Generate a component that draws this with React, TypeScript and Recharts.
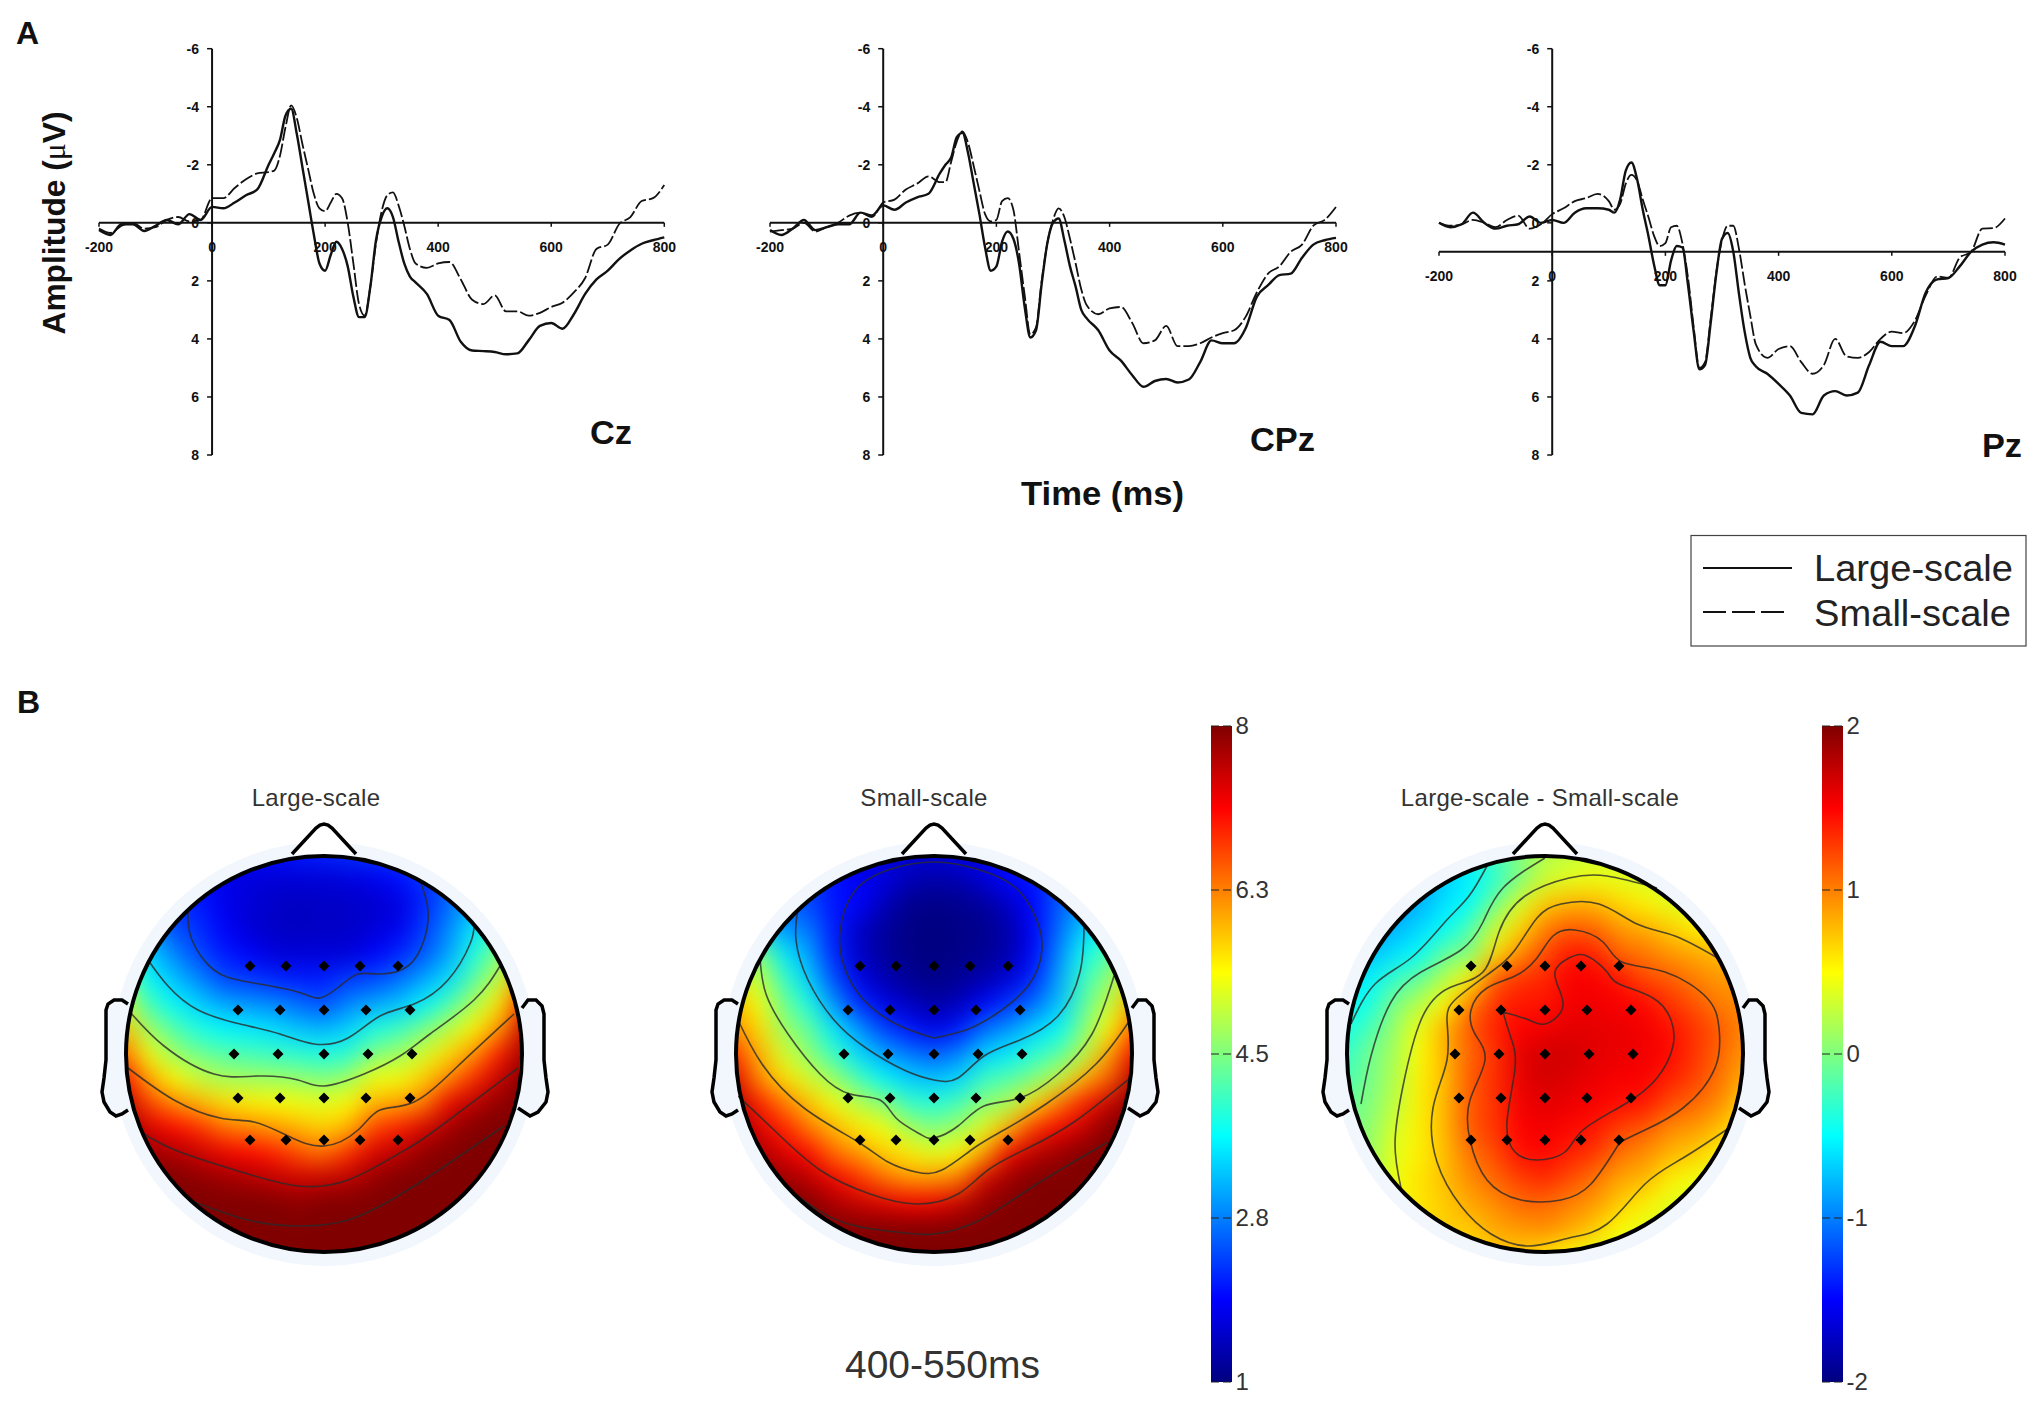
import { LineChart, Line, XAxis, YAxis, ReferenceLine, ReferenceDot, ScatterChart, Scatter, BarChart, Bar } from 'recharts';

const times = [-200,-180,-160,-140,-120,-100,-80,-60,-40,-20,0,20,40,60,80,100,110,120,130,140,150,160,170,180,190,200,210,220,230,240,250,260,270,280,290,300,310,320,330,340,350,360,380,400,420,440,460,480,500,520,540,560,580,600,620,640,660,680,700,720,740,760,780,800];

const czLarge = [0.25,0.42,0.05,0.05,0.28,0.1,-0.1,0.05,-0.3,-0.1,-0.55,-0.5,-0.7,-0.95,-1.15,-2,-2.4,-2.85,-3.7,-3.93,-3.05,-1.9,-0.75,0.4,1.4,1.65,1.1,0.65,0.9,1.5,2.55,3.25,3.25,2.2,0.6,-0.2,-0.5,-0.2,0.65,1.4,1.85,2.05,2.45,3.2,3.35,4.1,4.4,4.42,4.45,4.53,4.5,4.05,3.55,3.45,3.65,3.15,2.45,1.95,1.65,1.25,0.95,0.72,0.6,0.5];
const czSmall = [0.2,0.35,0.1,0,0.2,0.15,-0.1,-0.2,-0.05,-0.1,-0.85,-0.85,-1.2,-1.5,-1.7,-1.75,-1.8,-2.3,-3.3,-4.05,-3.6,-2.7,-1.85,-1,-0.5,-0.4,-0.7,-1,-0.85,0,1.4,2.8,3.2,2.2,0.7,-0.4,-0.95,-1.05,-0.6,0.1,0.9,1.4,1.55,1.4,1.35,1.95,2.65,2.8,2.5,3.05,3.05,3.2,3.1,2.9,2.75,2.4,1.9,0.9,0.75,0.05,-0.2,-0.75,-0.85,-1.3];
const cpzLarge = [0.25,0.42,0.2,-0.1,0.25,0.15,0.05,0.05,-0.35,-0.25,-0.6,-0.45,-0.7,-0.88,-1,-1.7,-2,-2.25,-2.95,-3.1,-2.4,-1.35,-0.3,0.85,1.65,1.5,0.65,0.3,0.55,1.4,2.9,3.95,3.7,2.1,0.7,0,-0.15,0.6,1.5,2.2,3,3.3,3.7,4.4,4.75,5.25,5.65,5.45,5.38,5.5,5.4,4.8,4.05,4.15,4.15,3.65,2.55,2.15,1.8,1.75,1.2,0.75,0.6,0.52];
const cpzSmall = [0.3,0.25,0.2,0,0.3,0.15,0,-0.25,-0.35,-0.2,-0.7,-0.8,-1.15,-1.35,-1.6,-1.4,-1.4,-2.1,-2.8,-3.15,-2.75,-1.95,-1.1,-0.3,-0.05,-0.1,-0.75,-0.85,-0.45,1,2.5,3.85,3.6,2,0.7,-0.1,-0.5,-0.2,0.55,1.4,2.3,2.85,3.15,2.95,2.9,3.45,4.15,4.05,3.55,4.25,4.25,4.15,3.95,3.8,3.7,3.25,2.4,1.75,1.5,1,0.75,0.1,-0.1,-0.55];
const pzLarge = [0,0.15,0.05,-0.35,0,0.2,0.1,0.05,-0.22,0,-0.1,0,-0.35,-0.5,-0.5,-0.45,-0.35,-0.8,-1.8,-2.08,-1.5,-0.45,0.45,1.45,2.15,2.15,1.3,0.8,0.85,2.15,3.75,5.05,4.9,3.45,1.75,0.55,0.35,1,2.45,3.75,4.65,4.95,5.2,5.55,5.95,6.55,6.6,5.95,5.8,5.95,5.85,4.9,4.1,4.25,4.25,3.6,2.4,1.95,1.9,1.5,1,0.75,0.67,0.75];
const pzSmall = [0,0.1,0.05,-0.1,0,0.15,-0.1,-0.25,0.2,0.05,-0.3,-0.5,-0.75,-0.85,-1,-0.75,-0.45,-0.65,-1.35,-1.65,-1.45,-0.8,-0.2,0.45,0.8,0.7,0.15,0.1,0.7,1.9,3.6,5,4.8,3.3,1.7,0.6,0.1,0.1,0.9,2.1,3.2,4.2,4.65,4.35,4.25,4.8,5.2,4.9,4,4.6,4.65,4.45,4,3.75,3.8,3.4,2.5,1.85,1.9,1.2,1,0.2,0.18,-0.15];

const xTicks = [-200, 0, 200, 400, 600, 800];
const yTicks = [-6, -4, -2, 0, 2, 4, 6, 8];
const seriesNames = ['Large-scale', 'Small-scale'];

// scalp grid, percent of head radius; columns run left to right, each one top to bottom
const gridX = [-100,-87.5,-75,-62.5,-50,-37.5,-25,-12.5,0,12.5,25,37.5,50,62.5,75,87.5,100];
const gridY = [100,87.5,75,62.5,50,37.5,25,12.5,0,-12.5,-25,-37.5,-50,-62.5,-75,-87.5,-100];

const largeField = [
  [2.3,2.4,2.6,3,3.4,3.9,4.6,5.1,5.8,6.4,7.1,7.6,7.9,8,8,8,8],
  [2,2.2,2.4,2.9,3.3,3.6,4.1,4.7,5.3,6,6.7,7.4,7.8,8,8,8,8],
  [2,2.1,2.2,2.4,2.8,3.2,3.6,4.2,4.7,5.4,6.2,7.1,7.7,8,8,8,8],
  [1.85,1.95,2.05,2.2,2.35,2.8,3.3,3.8,4.4,5,5.9,6.85,7.5,7.9,8,8,8],
  [1.75,1.75,1.75,1.85,2.05,2.35,3,3.6,4.2,4.8,5.6,6.4,7.25,7.8,8,8,8],
  [1.75,1.65,1.6,1.6,1.85,2.25,2.9,3.5,4.1,4.75,5.5,6.25,7.1,7.7,8,8,8],
  [1.85,1.6,1.5,1.5,1.6,2.1,2.8,3.4,4,4.7,5.4,6.1,6.95,7.55,8,8,8],
  [1.95,1.6,1.45,1.45,1.6,2.05,2.6,3.2,3.9,4.65,5.3,5.9,6.6,7.45,7.9,8,8],
  [2.05,1.6,1.5,1.5,1.6,2.05,2.4,3.1,3.8,4.5,5.2,5.7,6.4,7.5,8,8,8],
  [2.1,1.65,1.5,1.5,1.6,2.25,2.8,3.3,3.9,4.7,5.4,5.9,6.85,7.6,8,8,8],
  [2.2,1.75,1.55,1.6,1.85,2.35,3,3.8,4.5,5.3,5.9,6.7,7.4,7.85,8,8,8],
  [2.25,1.95,1.65,1.75,2.1,2.6,3.2,4,4.7,5.3,6,6.95,7.6,8,8,8,8],
  [2.3,2.2,2.1,2.25,2.45,3,3.55,4.4,5.1,5.7,6.3,7.4,7.9,8,8,8,8],
  [2.5,2.5,2.6,2.8,3,3.4,4.1,4.9,5.6,6.2,7.25,7.75,8,8,8,8,8],
  [2.8,2.9,3.1,3.45,3.8,4.2,4.8,5.4,6.1,6.85,7.6,8,8,8,8,8,8],
  [3,3.2,3.5,4,4.5,4.95,5.5,6.1,6.95,7.5,7.9,8,8,8,8,8,8],
  [3.2,3.6,4,4.4,4.9,5.4,6.1,6.95,7.5,7.8,8,8,8,8,8,8,8],
];

const smallField = [
  [2.6,2.7,2.9,3.2,3.6,4.2,5.1,5.9,6.2,6.8,7.35,7.7,7.9,8,8,8,8],
  [2.5,2.6,2.8,3.3,4.6,5,5.3,5.6,5.9,6.2,6.95,7.35,7.7,8,8,8,8],
  [2.4,2.4,2.5,2.9,3.5,4,4.4,4.7,5.1,5.6,6.3,6.95,7.35,7.8,8,8,8],
  [2.3,2.3,2.4,2.7,3,3.3,3.8,4.3,4.6,5.1,5.8,6.3,7.1,7.6,8,8,8],
  [2,2,2,2.05,2.1,2.4,2.9,3.5,4,4.7,5.3,5.9,6.4,7.2,7.7,8,8],
  [1.7,1.8,1.9,1.5,1.5,1.7,2.15,2.9,3.4,4.1,4.9,5.5,6.1,6.8,7.5,8,8],
  [1.6,1.7,1.4,1.2,1.2,1.35,1.7,2.3,3,3.6,4.6,5.3,5.7,6.4,7.35,8,8],
  [1.6,1.4,1.1,1.05,1.05,1.15,1.45,2,2.7,3.3,4,4.8,5.5,6.1,7.2,8,8],
  [1.6,1.3,1.05,1,1,1.05,1.25,1.7,2.5,3.2,3.9,4.5,5.2,6.1,7.25,8,8],
  [1.6,1.35,1.1,1.05,1.05,1.15,1.4,2,2.75,3.35,4.1,4.75,5.4,6.3,7.5,8,8],
  [1.7,1.6,1.2,1.1,1.15,1.3,1.85,2.6,3.3,4,4.6,5.2,6,7.4,7.85,8,8],
  [1.8,1.9,1.5,1.3,1.3,1.6,2.2,2.9,3.5,4.2,4.8,5.9,7.2,7.8,8,8,8],
  [2,2,1.9,1.85,1.9,2.1,2.6,3.3,3.9,4.5,5.6,6.8,7.6,8,8,8,8],
  [2.4,2.4,2.5,2.6,2.8,3,3.2,3.6,4.2,5,6.3,7.2,7.8,8,8,8,8],
  [2.6,2.7,2.9,3.3,3.7,4,4.2,4.5,4.9,5.9,6.95,7.5,8,8,8,8,8],
  [2.9,3.1,3.3,3.7,4.2,4.6,5,5.4,6,6.5,7.5,8,8,8,8,8,8],
  [3.2,3.4,3.8,4.3,4.8,5.2,5.6,6,6.5,7.2,7.7,8,8,8,8,8,8],
];

const diffField = [
  [-1,-1,-1,-0.95,-0.85,-0.7,-0.6,-0.5,-0.42,-0.32,-0.22,-0.1,-0.05,0,0,0,0],
  [-1,-1,-0.95,-0.9,-0.75,-0.55,-0.42,-0.22,-0.05,-0.05,0,0.05,0.1,0.15,0.2,0.2,0.2],
  [-1,-1,-0.9,-0.8,-0.6,-0.3,0,0.1,0.15,0.2,0.25,0.35,0.4,0.45,0.45,0.45,0.45],
  [-0.95,-0.9,-0.8,-0.65,-0.5,-0.1,0.2,0.45,0.5,0.55,0.55,0.55,0.55,0.6,0.6,0.6,0.6],
  [-0.8,-0.7,-0.6,-0.5,-0.1,0.2,0.5,0.8,0.8,0.75,0.78,0.78,0.75,0.75,0.7,0.7,0.65],
  [-0.65,-0.55,-0.5,-0.2,0,0.5,1,1.15,1.1,1.15,1.15,1.15,1.05,0.95,0.85,0.7,0.6],
  [-0.45,-0.35,-0.05,0.3,0.6,1.15,1.3,1.38,1.3,1.32,1.3,1.3,1.2,1.1,0.95,0.85,0.6],
  [-0.2,0,0.35,0.65,0.95,1.3,1.42,1.5,1.6,1.58,1.55,1.5,1.45,1.25,1.1,0.9,0.7],
  [0,0.3,0.7,1,1.2,1.35,1.42,1.55,1.68,1.68,1.6,1.55,1.48,1.35,1.1,0.95,0.7],
  [0.2,0.4,0.8,1.15,1.42,1.52,1.55,1.6,1.68,1.62,1.58,1.48,1.38,1.2,1,0.85,0.6],
  [0.25,0.45,0.8,1.1,1.38,1.52,1.55,1.6,1.6,1.58,1.52,1.42,1.3,1.05,0.9,0.7,0.5],
  [0.3,0.4,0.65,0.9,1.1,1.42,1.52,1.58,1.58,1.52,1.45,1.25,1.05,0.85,0.7,0.5,0.4],
  [0.3,0.35,0.55,0.82,1.05,1.2,1.48,1.55,1.55,1.52,1.42,1.15,0.95,0.8,0.55,0.4,0.35],
  [0.3,0.3,0.4,0.7,0.9,1.15,1.3,1.45,1.48,1.38,1.2,0.95,0.8,0.55,0.4,0.35,0.3],
  [0.3,0.3,0.35,0.55,0.85,1,1.18,1.3,1.3,1.25,1.1,0.9,0.7,0.45,0.35,0.3,0.3],
  [0.3,0.3,0.35,0.5,0.75,0.9,1,1.15,1.1,1.05,0.95,0.75,0.55,0.4,0.35,0.3,0.3],
  [0.3,0.3,0.35,0.45,0.65,0.8,0.9,0.95,0.95,0.9,0.8,0.65,0.5,0.4,0.3,0.3,0.3],
];

const largeContours = [
  [[-68,72],[-66,57],[-55,42],[-38,36],[-13,31],[-2,28],[8,34],[17,40],[28,40],[42,44],[50,57],[52,72],[48,87]],
  [[-88,47],[-78,34],[-63,22],[-42,15],[-22,10],[-5,5],[12,8],[28,19],[45,25],[62,37],[73,55],[75,64]],
  [[-97,21],[-80,4],[-55,-10],[-33,-11],[-13,-13],[0,-16],[20,-10],[38,-1],[53,10],[75,27],[88,44]],
  [[-98,-7],[-75,-23],[-52,-32],[-35,-34],[-18,-41],[0,-46],[17,-38],[28,-28],[45,-24],[67,-6],[95,20]],
  [[-90,-40],[-72,-49],[-38,-60],[-13,-66],[12,-63],[37,-50],[53,-40],[97,-7]],
  [[-65,-74],[-38,-83],[-13,-86],[12,-83],[37,-71],[62,-55],[90,-36]],
];

const smallContours = [
  [[0,8],[16,12],[31,20],[47,34],[54,52],[51,68],[41,83],[23,92],[0,96],[-23,92],[-40,81],[-47,61],[-45,44],[-36,28],[-19,15],[0,8]],
  [[-68,73],[-69,57],[-63,37],[-50,17],[-34,3],[-15,-8],[0,-13],[12,-12],[25,-1],[43,7],[62,19],[73,41],[75,64]],
  [[-87,48],[-84,30],[-73,10],[-57,-10],[-42,-20],[-27,-23],[-19,-32],[-7,-40],[0,-42],[12,-36],[25,-26],[43,-22],[62,-10],[79,10],[90,39]],
  [[-98,17],[-86,-5],[-65,-27],[-38,-44],[-23,-54],[-9,-59],[4,-58],[20,-47],[35,-38],[56,-25],[81,-5],[98,17]],
  [[-98,-21],[-80,-38],[-57,-58],[-32,-70],[-9,-75],[12,-70],[27,-58],[47,-47],[70,-34],[98,-12]],
  [[-71,-69],[-46,-84],[-19,-89],[0,-90],[23,-83],[50,-66],[87,-44]],
];

const diffContours = [
  [[-97,15],[-85,35],[-67,48],[-50,66],[-38,79],[-29,94]],
  [[-92,-25],[-87,-1],[-77,26],[-62,41],[-42,52],[-31,66],[-21,83],[0,98]],
  [[-72,-67],[-75,-45],[-71,-16],[-62,17],[-48,33],[-31,41],[-23,61],[-10,79],[12,88],[31,89],[56,83]],
  [[92,-37],[69,-52],[50,-65],[31,-85],[12,-92],[-8,-96],[-27,-90],[-42,-76],[-54,-54],[-56,-27],[-49,-3],[-49,17],[-44,28],[-27,41],[-15,52],[-4,68],[8,75],[27,75],[46,65],[65,59],[88,47]],
  [[37.5,-44],[23,-65],[8,-73],[-12,-73],[-29,-63],[-37.5,-43],[-37.5,-23],[-30,-3],[-35,10],[-37,22],[-29,33],[-15,39],[-4,48],[4,59],[15,62],[29,56],[38.5,46],[60,41],[81,28],[87,13],[85,-7],[69,-27],[50,-38],[37.5,-44]],
  [[-21,21],[-8,17],[0,15],[8,21],[8,30],[5,41],[12,48],[21,49],[31,41],[37,35],[54,28],[63,17],[64,4],[56,-12],[40,-25],[19,-38],[10,-49],[-4,-53],[-15,-49],[-19,-34],[-15,-7],[-17,8],[-21,21]],
];

const electrodeX = [-37,-19,0,18,37,-43,-22,0,21,43,-45,-23,0,22,44,-43,-22,0,21,43,-37,-19,0,18,37];
const electrodeY = [44,44,44,44,44,22,22,22,22,22,0,0,0,0,0,-22,-22,-22,-22,-22,-43,-43,-43,-43,-43];

const nose = [[-16,100],[-4,113],[-2,114.5],[0,115],[2,114.5],[4,113],[16,100]];
const leftEar = [[-98,25],[-101,27],[-105,27],[-108,25],[-109,22],[-109,10],[-109,-3],[-110,-12],[-111,-19],[-110,-24],[-107,-29],[-104,-31],[-101,-30],[-98,-28]];
const rightEar = [[99,23],[102,27],[106,27],[109,24],[110,20],[110,8],[110,-3],[111,-12],[112,-19],[111,-24],[107,-29],[103,-31],[100,-29],[97,-27]];

const scaleTicks = [1, 2.75, 4.5, 6.25, 8];
const scaleLabels = ['1', '2.8', '4.5', '6.3', '8'];
const diffTicks = [-2, -1, 0, 1, 2];
const diffLabels = ['-2', '-1', '0', '1', '2'];

const SANS = '"Liberation Sans", Arial, sans-serif';
const INK = '#111';

function jet(t: number) {
  const c = (v: number) => Math.round(255 * Math.max(0, Math.min(1, v)));
  const r = Math.min(4 * t - 1.5, -4 * t + 4.5);
  const g = Math.min(4 * t - 0.5, -4 * t + 3.5);
  const b = Math.min(4 * t + 0.5, -4 * t + 2.5);
  return `rgb(${c(r)},${c(g)},${c(b)})`;
}

const toPoints = (list: number[][]) => list.map(([x, y]) => ({ x, y }));

function ErpPanel({ left, right, cross, large, small, height = 480 }: any) {
  const chartLeft = left - 60;
  const plotW = right - left;
  const width = plotW + 100;
  const top = 48.7;
  const plotH = 406.3;
  const axisX = 60 + plotW * 0.2;
  const crossY = top + ((cross + 6) / 14) * plotH;
  const data = times.map((t, i) => ({ t, large: large[i], small: small[i] }));

  const xTick = ({ x, payload }: any) => (
    <g>
      <line x1={x} x2={x} y1={crossY} y2={crossY + 4} stroke={INK} strokeWidth={1.5} />
      <text x={x} y={crossY + 29} textAnchor="middle" fontFamily={SANS} fontWeight="bold" fontSize={14} fill={INK}>{payload.value}</text>
    </g>
  );
  const yTick = ({ y, payload }: any) => (
    <g>
      <line x1={axisX - 5} x2={axisX} y1={y} y2={y} stroke={INK} strokeWidth={1.5} />
      <text x={axisX - 13} y={y + 5} textAnchor="end" fontFamily={SANS} fontWeight="bold" fontSize={14} fill={INK}>{payload.value}</text>
    </g>
  );

  return (
    <div style={{ position: 'absolute', left: chartLeft, top: 0 }}>
      <LineChart width={width} height={height} data={data} margin={{ left: 59, right: 40, top, bottom: height - top - plotH - 1 }}>
        <XAxis type="number" dataKey="t" domain={[-200, 800]} ticks={xTicks} interval={0} axisLine={false} tickLine={false} tick={xTick} height={1} />
        <YAxis type="number" domain={[-6, 8]} reversed ticks={yTicks} interval={0} axisLine={false} tickLine={false} tick={yTick} width={1} />
        <ReferenceLine x={0} stroke={INK} strokeWidth={2} />
        <ReferenceLine y={cross} stroke={INK} strokeWidth={2} />
        <Line dataKey="small" name={seriesNames[1]} type="monotone" stroke={INK} strokeWidth={1.8} strokeDasharray="14 3" dot={false} isAnimationActive={false} />
        <Line dataKey="large" name={seriesNames[0]} type="monotone" stroke={INK} strokeWidth={2.4} dot={false} isAnimationActive={false} />
      </LineChart>
    </div>
  );
}

const FieldCell = ({ cx, cy, payload }: any) => {
  const edge = Math.abs(payload.x) === 100 || Math.abs(payload.y) === 100;
  const s = edge ? 75 : 26;
  return <rect x={cx - s / 2} y={cy - s / 2} width={s} height={s} fill={payload.color} />;
};
const Electrode = ({ cx, cy }: any) => (
  <path d={`M${cx} ${cy - 5.5}L${cx + 5.5} ${cy}L${cx} ${cy + 5.5}L${cx - 5.5} ${cy}Z`} fill="#000" />
);
const NoMark = () => null;

function Head({ id, cx, title, titleX, field, contours, min, max }: any) {
  const cells = gridX
    .flatMap((x, i) => gridY.map((y, j) => ({ x, y, color: jet((field[i][j] - min) / (max - min)) })))
    .sort((a, b) => Number(Math.abs(b.x) === 100 || Math.abs(b.y) === 100) - Number(Math.abs(a.x) === 100 || Math.abs(a.y) === 100));
  const electrodes = electrodeX.map((x, i) => ({ x, y: electrodeY[i] }));

  return (
    <div style={{ position: 'absolute', left: cx - 250, top: 724 }}>
      <ScatterChart width={500} height={580} margin={{ left: 0, right: 0, top: 0, bottom: 0 }}>
        <defs>
          <filter id={`blur-${id}`} filterUnits="userSpaceOnUse" x={0} y={0} width={500} height={580} colorInterpolationFilters="sRGB">
            <feGaussianBlur stdDeviation={12} />
          </filter>
          <clipPath id={`clip-${id}`}>
            <circle cx={250} cy={330} r={198} />
          </clipPath>
        </defs>
        <style>{`.field-${id}{filter:url(#blur-${id});clip-path:url(#clip-${id})}`}</style>
        <XAxis type="number" dataKey="x" domain={[-125, 125]} hide />
        <YAxis type="number" dataKey="y" domain={[-125, 165]} hide />
        <ReferenceDot x={0} y={0} r={205} fill="none" stroke="#f2f6fd" strokeWidth={14} />
        <Scatter className={`field-${id}`} data={cells} shape={FieldCell} isAnimationActive={false} />
        {contours.map((c: number[][], i: number) => (
          <Scatter key={i} data={toPoints(c)} line={{ stroke: '#2b2b2b', strokeWidth: 1.6, strokeOpacity: 0.8 }} lineJointType="natural" shape={NoMark} isAnimationActive={false} />
        ))}
        <Scatter data={toPoints(nose)} line={{ stroke: '#000', strokeWidth: 3.5, fill: '#fff' }} lineJointType="linear" shape={NoMark} isAnimationActive={false} />
        <Scatter data={toPoints(leftEar)} line={{ stroke: '#000', strokeWidth: 3.5, fill: '#f2f6fd' }} lineJointType="linear" shape={NoMark} isAnimationActive={false} />
        <Scatter data={toPoints(rightEar)} line={{ stroke: '#000', strokeWidth: 3.5, fill: '#f2f6fd' }} lineJointType="linear" shape={NoMark} isAnimationActive={false} />
        <ReferenceDot x={0} y={0} r={198} fill="none" stroke="#000" strokeWidth={4} />
        <Scatter data={electrodes} shape={Electrode} isAnimationActive={false} />
        <ReferenceDot x={titleX} y={128.5} r={0} fill="none" stroke="none"
          label={{ value: title, position: 'center', fontFamily: SANS, fontSize: 24, letterSpacing: 0.3, fill: '#333' }} />
      </ScatterChart>
    </div>
  );
}

function ColorBar({ id, left, ticks, labels, min, max }: any) {
  const barW = 20.5;
  const tick = ({ y, payload }: any) => (
    <g>
      <line x1={21} x2={21 + barW} y1={y} y2={y} stroke="#222" strokeWidth={1.2} strokeDasharray="8 4" />
      <text x={21 + barW + 4} y={y + 8} fontFamily={SANS} fontSize={24} fill="#333">{labels[ticks.indexOf(payload.value)]}</text>
    </g>
  );
  return (
    <div style={{ position: 'absolute', left: left - 21, top: 700 }}>
      <BarChart width={110} height={710} data={[{ name: 'scale', range: [min, max] }]} barCategoryGap={0} margin={{ left: 21, right: 0, top: 26, bottom: 28 }}>
        <defs>
          <linearGradient id={`jet-${id}`} x1="0" y1="1" x2="0" y2="0">
            {[0, 0.125, 0.375, 0.625, 0.875, 1].map((o) => <stop key={o} offset={o} stopColor={jet(o)} />)}
          </linearGradient>
        </defs>
        <XAxis dataKey="name" hide />
        <Bar dataKey="range" fill={`url(#jet-${id})`} isAnimationActive={false} />
        <YAxis orientation="right" type="number" domain={[min, max]} ticks={ticks} interval={0} width={110 - 21 - barW} axisLine={false} tickLine={false} tick={tick} />
      </BarChart>
    </div>
  );
}

export default function App() {
  const bold = { fontFamily: SANS, fontWeight: 'bold', fill: INK } as const;
  return (
    <div style={{ position: 'absolute', left: 0, top: 0, width: 2033, height: 1404, background: '#fff', overflow: 'hidden' }}>
      <ErpPanel left={98.7} right={664} cross={0} large={czLarge} small={czSmall} />
      <ErpPanel left={770} right={1336} cross={0} large={cpzLarge} small={cpzSmall} />
      <ErpPanel left={1439} right={2005} cross={1} large={pzLarge} small={pzSmall} />

      <Head id="large" cx={323.5} title="Large-scale" titleX={-4} field={largeField} contours={largeContours} min={1} max={8} />
      <Head id="small" cx={934} title="Small-scale" titleX={-5} field={smallField} contours={smallContours} min={1} max={8} />
      <Head id="diff" cx={1545} title="Large-scale - Small-scale" titleX={-2.5} field={diffField} contours={diffContours} min={-2} max={2} />

      <ColorBar id="a" left={1211} ticks={scaleTicks} labels={scaleLabels} min={1} max={8} />
      <ColorBar id="b" left={1822} ticks={diffTicks} labels={diffLabels} min={-2} max={2} />

      <svg width={2033} height={1404} style={{ position: 'absolute', left: 0, top: 0, pointerEvents: 'none' }}>
        <text x={16} y={44} fontSize={32} {...bold}>A</text>
        <text x={17} y={713} fontSize={32} {...bold}>B</text>
        <text transform="translate(65,223) rotate(-90)" textAnchor="middle" fontSize={32} textLength={223} lengthAdjust="spacingAndGlyphs" {...bold}>
          Amplitude (<tspan fontFamily='"Liberation Serif"' fontWeight="normal">μ</tspan>V)
        </text>
        <text x={1021} y={505} fontSize={34} textLength={163} lengthAdjust="spacingAndGlyphs" {...bold}>Time (ms)</text>
        <text x={590} y={444} fontSize={34} textLength={42} lengthAdjust="spacingAndGlyphs" {...bold}>Cz</text>
        <text x={1250} y={451} fontSize={34} textLength={65} lengthAdjust="spacingAndGlyphs" {...bold}>CPz</text>
        <text x={1982} y={457} fontSize={34} textLength={40} lengthAdjust="spacingAndGlyphs" {...bold}>Pz</text>

        <rect x={1691} y={535.5} width={335} height={110.5} fill="#fff" stroke="#444" strokeWidth={1.2} />
        <line x1={1703} x2={1792} y1={568} y2={568} stroke={INK} strokeWidth={2} />
        <line x1={1703} x2={1784} y1={612} y2={612} stroke={INK} strokeWidth={2} strokeDasharray="23 6" />
        <text x={1814} y={581} fontFamily={SANS} fontSize={36} fill="#222" textLength={199} lengthAdjust="spacingAndGlyphs">{seriesNames[0]}</text>
        <text x={1814} y={626} fontFamily={SANS} fontSize={36} fill="#222" textLength={197} lengthAdjust="spacingAndGlyphs">{seriesNames[1]}</text>

        <text x={845} y={1378} fontFamily={SANS} fontSize={38} fill="#333" textLength={195} lengthAdjust="spacingAndGlyphs">400-550ms</text>
      </svg>
    </div>
  );
}
